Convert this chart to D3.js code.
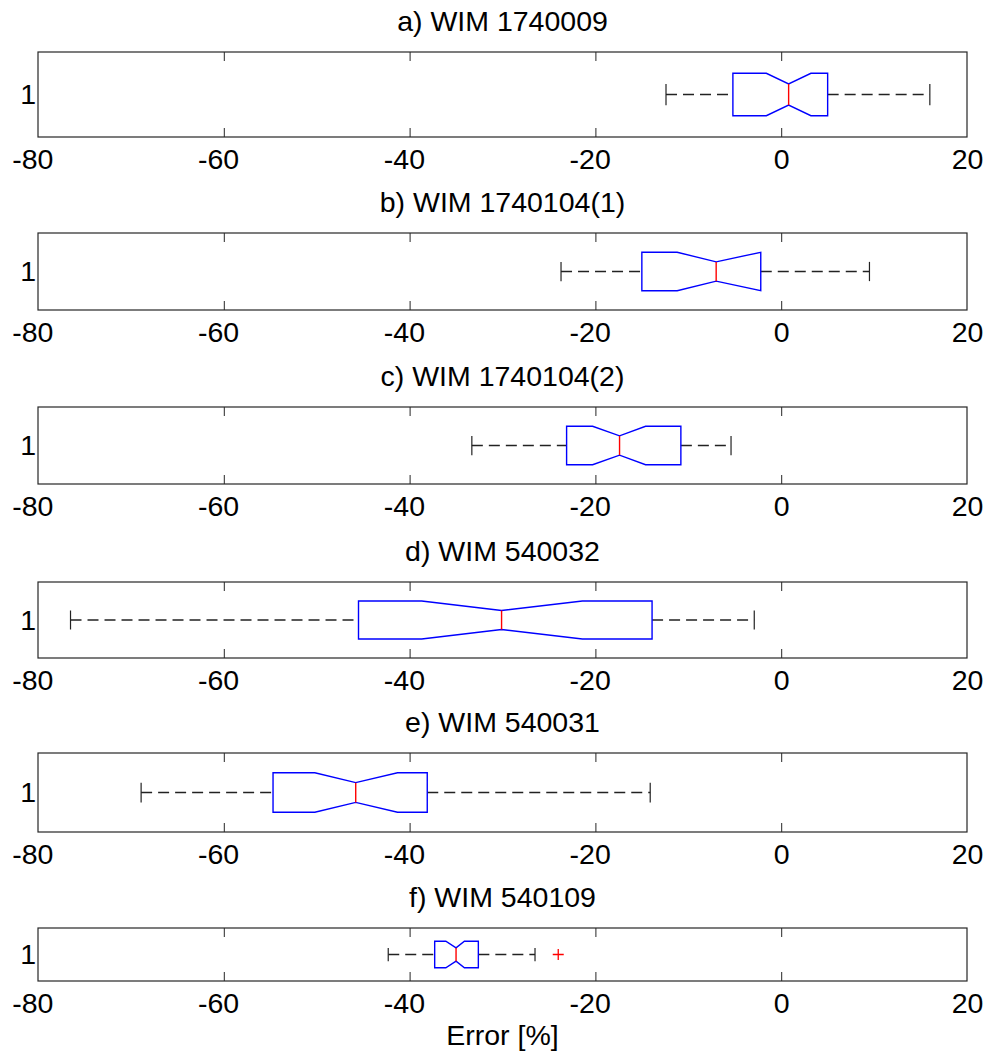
<!DOCTYPE html>
<html lang="en">
<head>
    <meta charset="utf-8">
    <script src="https://d3js.org/d3.v7.min.js"></script>
    <style>
        body { margin: 0; background: #fff; }
        text { font-family: "Liberation Sans", Arial, sans-serif; fill: #000; }
        .axis .domain { display: none; }
        .axis line { stroke: #262626; }
    </style>
</head>
<body>
    <div id="chart"></div>
    <script>
        /* Data (error in %) */
        var titles = ["a) WIM 1740009", "b) WIM 1740104(1)", "c) WIM 1740104(2)",
                      "d) WIM 540032", "e) WIM 540031", "f) WIM 540109"];
        var lowerWhisker = [-12.4, -23.7, -33.3, -76.5, -68.9, -42.3];
        var q1           = [-5.2, -15.0, -23.1, -45.5, -54.7, -37.3];
        var notchLo      = [-1.6, -11.2, -20.3, -38.7, -50.2, -36.1];
        var median       = [0.8, -7.0, -17.4, -30.1, -45.8, -35.0];
        var notchHi      = [3.2, -2.2, -14.6, -21.4, -41.3, -34.1];
        var q3           = [5.0, -2.2, -10.8, -13.9, -38.1, -32.6];
        var upperWhisker = [16.0, 9.5, -5.4, -2.9, -14.1, -26.5];
        var outliers     = [[], [], [], [], [], [-24.0]];

        var xTicks = [-80, -60, -40, -20, 0, 20];
        var yTickLabels = ["1"];
        var xLabel = "Error [%]";

        /* Layout */
        var width = 989;
        var height = 1052;
        var left = 38, right = 967;
        var panelTop    = [52, 233, 407, 582, 753, 928];
        var panelBottom = [137, 310, 484, 658, 832, 981];
        var tickLen = 9;
        var fontSize = "28.5px";

        var svg = d3.select("#chart").append("svg")
          .attr("width", width)
          .attr("height", height);

        svg.append("rect").attr("width", width).attr("height", height).attr("fill", "#fff");

        var xScale = d3.scaleLinear()
          .domain([-80, 20])
          .range([left, right]);

        titles.forEach(function(title, i) {
            var top = panelTop[i], bottom = panelBottom[i];
            var yScale = d3.scaleLinear()
              .domain([0.5, 1.5])
              .range([bottom, top]);

            var g = svg.append("g").attr("class", "panel");

            // frame
            g.append("rect")
              .attr("x", left).attr("y", top)
              .attr("width", right - left).attr("height", bottom - top)
              .attr("fill", "none")
              .attr("stroke", "#262626")
              .attr("stroke-width", 1.2);

            // bottom axis, ticks pointing in (plain hyphen for minus like matlab)
            var bx = g.append("g")
              .attr("class", "axis")
              .attr("transform", `translate(0, ${bottom})`)
              .call(d3.axisBottom(xScale).tickValues(xTicks)
                .tickSizeInner(-tickLen).tickSizeOuter(0).tickPadding(12)
                .tickFormat(d => String(d)));
            bx.selectAll("text")
              .style("font-size", fontSize)
              .attr("dx", d => d < 0 ? "-0.2em" : 0);
            bx.selectAll(".tick").filter(d => d === -80 || d === 20).select("line").remove();

            // top axis, ticks only
            var tx = g.append("g")
              .attr("class", "axis")
              .attr("transform", `translate(0, ${top})`)
              .call(d3.axisTop(xScale).tickValues(xTicks)
                .tickSizeInner(-tickLen).tickSizeOuter(0).tickFormat(""));
            tx.selectAll(".tick").filter(d => d === -80 || d === 20).select("line").remove();

            // y axis label "1"
            var ly = g.append("g")
              .attr("class", "axis")
              .attr("transform", `translate(${left}, 0)`)
              .call(d3.axisLeft(yScale).tickValues([1]).tickSize(0).tickPadding(2)
                .tickFormat((d, k) => yTickLabels[k]));
            ly.selectAll("text").style("font-size", fontSize);

            // title
            g.append("text")
              .attr("x", (left + right) / 2)
              .attr("y", top - 21)
              .attr("text-anchor", "middle")
              .style("font-size", fontSize)
              .text(title);

            var yMid = yScale(1);
            var boxTop = yScale(1.25), boxBot = yScale(0.75);
            var nTop = yScale(1.125), nBot = yScale(0.875);

            // whiskers
            [[lowerWhisker[i], q1[i]], [q3[i], upperWhisker[i]]].forEach(function(w) {
                g.append("line")
                  .attr("x1", xScale(w[0])).attr("x2", xScale(w[1]))
                  .attr("y1", yMid).attr("y2", yMid)
                  .attr("stroke", "#222")
                  .attr("stroke-width", 1.3)
                  .attr("stroke-dasharray", "11,6");
            });
            [lowerWhisker[i], upperWhisker[i]].forEach(function(v) {
                g.append("line")
                  .attr("x1", xScale(v)).attr("x2", xScale(v))
                  .attr("y1", nTop).attr("y2", nBot)
                  .attr("stroke", "#222")
                  .attr("stroke-width", 1.2);
            });

            // notched box
            var pts = [
                [xScale(q1[i]), boxTop], [xScale(notchLo[i]), boxTop], [xScale(median[i]), nTop],
                [xScale(notchHi[i]), boxTop], [xScale(q3[i]), boxTop], [xScale(q3[i]), boxBot],
                [xScale(notchHi[i]), boxBot], [xScale(median[i]), nBot], [xScale(notchLo[i]), boxBot],
                [xScale(q1[i]), boxBot]
            ];
            g.append("path")
              .attr("d", d3.line()(pts) + "Z")
              .attr("fill", "none")
              .attr("stroke", "#0000ff")
              .attr("stroke-width", 1.4);

            // median
            g.append("line")
              .attr("x1", xScale(median[i])).attr("x2", xScale(median[i]))
              .attr("y1", nTop).attr("y2", nBot)
              .attr("stroke", "#ff0000")
              .attr("stroke-width", 1.4);

            // outliers as red +
            g.selectAll(".outlier")
              .data(outliers[i]).enter()
              .append("path")
              .attr("class", "outlier")
              .attr("transform", d => `translate(${xScale(d)}, ${yMid})`)
              .attr("d", "M-5.5,0H5.5M0,-5.5V5.5")
              .attr("fill", "none")
              .attr("stroke", "#ff0000")
              .attr("stroke-width", 1.3);
        });

        // x axis label under the last panel
        svg.append("text")
          .attr("x", (left + right) / 2)
          .attr("y", panelBottom[panelBottom.length - 1] + 64)
          .attr("text-anchor", "middle")
          .style("font-size", fontSize)
          .text(xLabel);
    </script>
</body>
</html>
